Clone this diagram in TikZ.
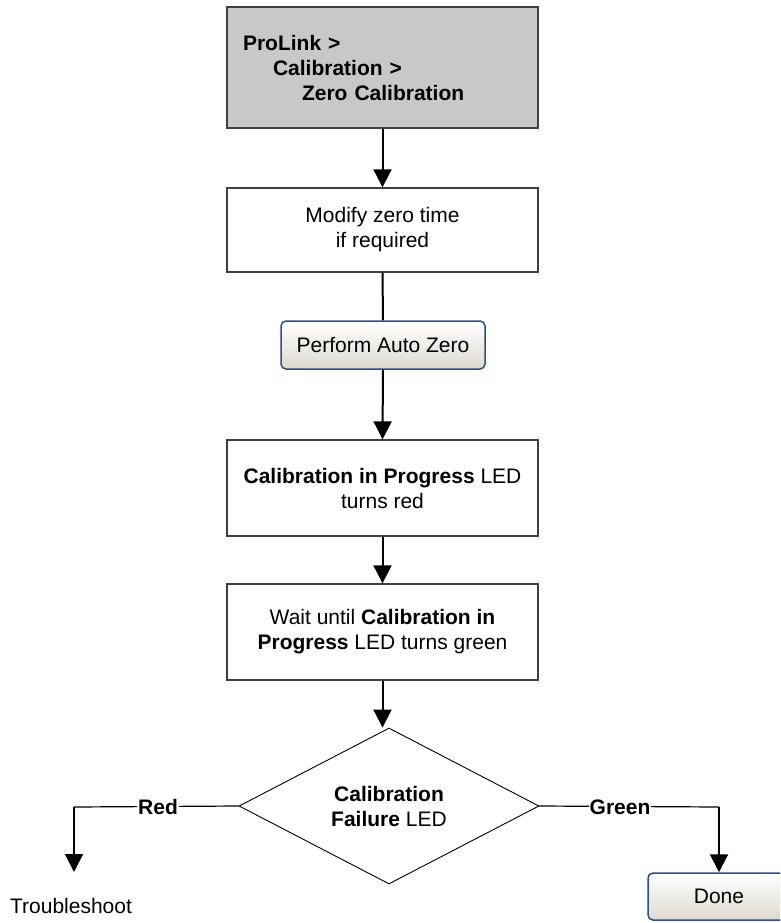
\documentclass[tikz,border=0pt]{standalone}
\usepackage{fontspec}
\setmainfont{Liberation Sans}
\usetikzlibrary{arrows.meta,shapes.geometric}

\definecolor{boxline}{HTML}{404040}
\definecolor{menugray}{HTML}{C8C8C8}
\definecolor{btnline}{HTML}{2B4F86}
\definecolor{btnlow}{HTML}{DEDAD0}

\tikzset{
  every node/.style={font=\fontsize{21}{25}\selectfont},
  stepbox/.style={draw=boxline, line width=1.3pt, fill=white, minimum width=311pt,
    align=center, inner sep=0pt},
  menubox/.style={stepbox, fill=menugray},
  button/.style={draw=btnline, line width=1.5pt, rounded corners=5pt,
    top color=white, bottom color=btnlow, inner sep=0pt},
  decision/.style={diamond, draw, line width=0.9pt, fill=white, aspect=1.92,
    minimum width=300pt, minimum height=156pt, inner sep=0pt, align=center},
  flow/.style={line width=2pt, -{Triangle[length=18pt,width=18pt]}},
  plain/.style={line width=2pt},
  branch/.style={line width=1.2pt},
  tag/.style={fill=white, inner sep=1pt, font=\fontsize{21}{25}\selectfont\bfseries},
}

\begin{document}
\begin{tikzpicture}[x=1pt, y=-1pt]
  \useasboundingbox (0,0) rectangle (780,923);
  \clip (0,0) rectangle (780,923);

  % menu path
  \node[menubox, minimum height=121pt, text width=279pt, align=left] (menu) at (382.5,67.5)
    {\bfseries ProLink >\\\hspace*{30pt}Calibration >\\\hspace*{59pt}Zero Calibration};

  % steps
  \node[stepbox, minimum height=84pt] (modify) at (382.5,230)
    {Modify zero time\\if required};
  \node[button, minimum width=204pt, minimum height=48pt] (auto) at (383,345)
    {Perform Auto Zero};
  \node[stepbox, minimum height=96pt] (prog) at (382.5,488)
    {\textbf{Calibration in Progress} LED\\turns red};
  \node[stepbox, minimum height=96pt] (wait) at (382.5,632)
    {Wait until \textbf{Calibration in}\\\textbf{Progress} LED turns green};

  % decision
  \node[decision] (dec) at (389,806) {\textbf{Calibration}\\\textbf{Failure} LED};

  % outcomes
  \node[anchor=base] (trouble) at (71,913) {Troubleshoot};
  \node[button, minimum width=142pt, minimum height=47pt] (done) at (719,896.5) {Done};

  \coordinate (redturn) at (74,807);
  \coordinate (redend) at (74,872);
  \coordinate (greenturn) at (719,807);

  % connectors
  \draw[flow] (menu.south) -- (modify.north);
  \draw[plain] (modify.south) -- (auto.north);
  \draw[flow] (auto.south) -- (prog.north);
  \draw[flow] (prog.south) -- (wait.north);
  \draw[flow] (wait.south) -- (wait.south |- dec.north);

  \draw[branch] (dec.west) -- (redturn);
  \draw[flow] (redturn) -- (redend);
  \node[tag] (red) at (158,807) {Red};

  \draw[branch] (dec.east) -- (greenturn);
  \draw[flow] (greenturn) -- (done.north);
  \node[tag] (green) at (620,807) {Green};
\end{tikzpicture}
\end{document}
